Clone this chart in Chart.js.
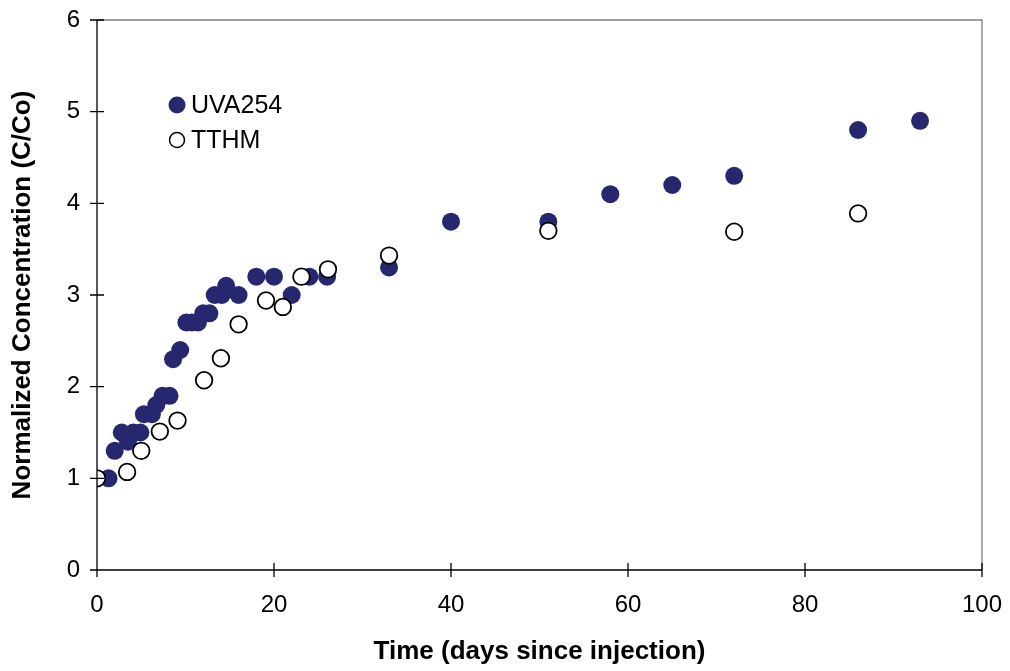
<!DOCTYPE html>
<html>
<head>
<meta charset="utf-8">
<script src="https://cdn.jsdelivr.net/npm/chart.js@4/dist/chart.umd.min.js"></script>
<style>
    html, body { margin: 0; padding: 0; background: #fff; }
    #chart { display: block; }
</style>
</head>
<body>
<canvas id="chart" width="1010" height="671"></canvas>
<script>
// values
const uvaDays = [1.3, 2, 2.8, 3.5, 4.1, 4.9, 5.3, 6.2, 6.7, 7.4, 8.2, 8.6, 9.4, 10.1, 10.7, 11.4, 12, 12.7, 13.3, 14.1, 14.6, 16, 18, 20, 22, 24, 26, 33, 40, 51, 58, 65, 72, 86, 93];
const uvaConc = [1.0, 1.3, 1.5, 1.4, 1.5, 1.5, 1.7, 1.7, 1.8, 1.9, 1.9, 2.3, 2.4, 2.7, 2.7, 2.7, 2.8, 2.8, 3.0, 3.0, 3.1, 3.0, 3.2, 3.2, 3.0, 3.2, 3.2, 3.3, 3.8, 3.8, 4.1, 4.2, 4.3, 4.8, 4.9];
const tthmDays = [0, 3.4, 5, 7.1, 9.1, 12.1, 14, 16, 19.1, 21, 23.1, 26.1, 33, 51, 72, 86];
const tthmConc = [1.0, 1.07, 1.3, 1.51, 1.63, 2.07, 2.31, 2.68, 2.94, 2.87, 3.2, 3.28, 3.43, 3.7, 3.69, 3.89];
const xTicks = [0, 20, 40, 60, 80, 100];
const yTicks = [0, 1, 2, 3, 4, 5, 6];

const navy = '#27276f';
const FONT = '"Liberation Sans", Arial, sans-serif';

function toPoints(xs, ys) {
    return xs.map((x, i) => ({ x: x, y: ys[i] }));
}

const frame = {
    id: 'frame',
    afterDatasetsDraw(chart) {
        const ctx = chart.ctx;
        const a = chart.chartArea;
        const xs = chart.scales.x, ys = chart.scales.y;
        ctx.save();
        ctx.strokeStyle = '#808080';
        ctx.lineWidth = 1.3;
        ctx.beginPath();
        ctx.moveTo(a.left, a.top);
        ctx.lineTo(a.right, a.top);
        ctx.lineTo(a.right, a.bottom);
        ctx.stroke();
        ctx.strokeStyle = '#000';
        ctx.beginPath();
        ctx.moveTo(a.left, a.top);
        ctx.lineTo(a.left, a.bottom);
        ctx.lineTo(a.right, a.bottom);
        yTicks.forEach(v => {
            const p = ys.getPixelForValue(v);
            ctx.moveTo(a.left - 7, p);
            ctx.lineTo(a.left + 7, p);
        });
        xTicks.forEach(v => {
            const p = xs.getPixelForValue(v);
            ctx.moveTo(p, a.bottom - 7);
            ctx.lineTo(p, a.bottom + 7);
        });
        ctx.stroke();

        // legend inside plot
        ctx.font = '25px ' + FONT;
        ctx.textBaseline = 'middle';
        ctx.beginPath();
        ctx.arc(177, 105, 8.5, 0, Math.PI * 2);
        ctx.fillStyle = navy;
        ctx.fill();
        ctx.beginPath();
        ctx.arc(177, 140, 7.5, 0, Math.PI * 2);
        ctx.fillStyle = '#fff';
        ctx.fill();
        ctx.lineWidth = 1.5;
        ctx.strokeStyle = '#000';
        ctx.stroke();
        ctx.fillStyle = '#000';
        ctx.fillText('UVA254', 191, 106);
        ctx.fillText('TTHM', 191, 141);
        ctx.restore();
    }
};

new Chart(document.getElementById('chart'), {
    type: 'scatter',
    data: {
        datasets: [
            {
                label: 'UVA254',
                data: toPoints(uvaDays, uvaConc),
                pointRadius: 9,
                pointBackgroundColor: navy,
                pointBorderColor: navy,
                pointBorderWidth: 0,
                order: 2
            },
            {
                label: 'TTHM',
                data: toPoints(tthmDays, tthmConc),
                pointRadius: 8.3,
                pointBackgroundColor: '#fff',
                pointBorderColor: '#000',
                pointBorderWidth: 1.8,
                order: 1
            }
        ]
    },
    options: {
        responsive: false,
        animation: false,
        layout: { padding: { top: 20, right: 28, left: 0, bottom: 0 } },
        plugins: { legend: { display: false }, tooltip: { enabled: false } },
        scales: {
            x: {
                type: 'linear',
                min: 0,
                max: 100,
                afterFit: s => { s.height = 101; s.paddingLeft = 0; s.paddingRight = 0; },
                afterBuildTicks: s => { s.ticks = xTicks.map(v => ({ value: v })); },
                grid: { display: false, drawTicks: false },
                border: { display: false },
                ticks: { color: '#000', padding: 21, font: { size: 24, family: FONT } },
                title: {
                    display: true,
                    text: 'Time (days since injection)',
                    color: '#000',
                    padding: { top: 0, bottom: 4 },
                    font: { size: 26, weight: 'bold', family: FONT }
                }
            },
            y: {
                type: 'linear',
                min: 0,
                max: 6,
                afterFit: s => { s.width = 97; s.paddingTop = 0; s.paddingBottom = 0; },
                afterBuildTicks: s => { s.ticks = yTicks.map(v => ({ value: v })); },
                grid: { display: false, drawTicks: false },
                border: { display: false },
                ticks: { color: '#000', padding: 17, font: { size: 24, family: FONT } },
                title: {
                    display: true,
                    text: 'Normalized Concentration (C/Co)',
                    color: '#000',
                    padding: { top: 7, bottom: 0 },
                    font: { size: 26, weight: 'bold', family: FONT }
                }
            }
        }
    },
    plugins: [frame]
});
</script>
</body>
</html>
